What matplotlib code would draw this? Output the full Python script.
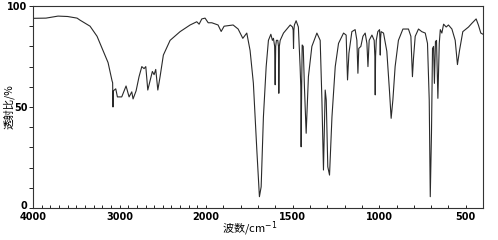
import matplotlib
matplotlib.use("Agg")
import matplotlib.pyplot as plt
import matplotlib.transforms as mtrans
import numpy as np
from matplotlib.ticker import FixedLocator, MultipleLocator

# IR spectrum (wavenumber cm-1, transmittance %)
wavenumber = [4000, 3850, 3711, 3600, 3491, 3457, 3341, 3260, 3191, 3133,
              3087, 3080, 3076, 3072, 3044, 3025, 2975, 2925, 2890, 2859,
              2844, 2809, 2775, 2743, 2717, 2697, 2674, 2647, 2621, 2601,
              2582, 2558, 2532, 2494, 2416, 2301, 2185, 2108, 2081, 2050,
              2012, 1988, 1967, 1931, 1913, 1896, 1844, 1815, 1788, 1765,
              1746, 1727, 1707, 1692, 1682, 1669, 1653, 1640, 1626, 1617,
              1611, 1604, 1601, 1598, 1594, 1586, 1582, 1580, 1577, 1572,
              1553, 1514, 1501, 1497, 1495, 1493, 1490, 1480, 1467, 1457,
              1453, 1451, 1448, 1445, 1439, 1432, 1422, 1409, 1389, 1360,
              1341, 1331, 1322, 1312, 1306, 1297, 1287, 1273, 1254, 1235,
              1206, 1191, 1183, 1175, 1158, 1139, 1129, 1123, 1118, 1106,
              1094, 1081, 1071, 1065, 1058, 1042, 1029, 1025, 1023, 1021,
              1017, 1008, 998, 996, 994, 992, 989, 975, 956, 941,
              931, 921, 908, 889, 863, 831, 817, 808, 802, 792,
              773, 754, 734, 721, 711, 705, 698, 692, 686, 681,
              675, 669, 661, 653, 647, 638, 628, 613, 600, 580,
              561, 548, 536, 517, 484, 465, 440, 427, 413, 400]
transmittance = [93.9, 94.0, 95.0, 94.8, 94.0, 93.0, 90.0, 85.0, 78.0, 72.0,
                 63.0, 62.0, 50.0, 58.0, 59.0, 55.0, 55.0, 60.4, 55.0, 57.5,
                 54.0, 58.0, 65.0, 70.0, 69.0, 70.0, 58.4, 63.0, 67.6, 66.0,
                 68.6, 58.4, 65.0, 75.7, 83.0, 87.3, 90.6, 92.2, 91.0, 93.6,
                 94.0, 91.7, 91.7, 90.6, 87.4, 90.0, 90.6, 88.6, 84.0, 86.6,
                 78.0, 61.8, 28.7, 5.6, 10.5, 45.0, 70.0, 83.0, 86.0, 83.0,
                 84.0, 80.0, 61.0, 80.0, 83.0, 83.0, 80.0, 56.8, 80.0, 83.0,
                 86.6, 90.6, 89.6, 88.0, 79.0, 88.0, 90.6, 92.7, 89.6, 70.0,
                 60.0, 30.3, 60.0, 80.7, 80.0, 60.0, 37.0, 65.0, 80.0, 86.6,
                 83.0, 53.5, 18.8, 58.4, 53.5, 20.4, 16.3, 45.0, 70.0, 81.5,
                 86.6, 85.6, 63.4, 76.6, 87.3, 88.3, 83.0, 66.7, 79.0, 80.0,
                 85.0, 86.6, 81.5, 70.0, 83.0, 85.6, 83.0, 75.0, 56.0, 75.0,
                 83.0, 87.3, 88.3, 84.0, 75.7, 84.0, 87.3, 86.6, 77.6, 58.4,
                 44.4, 53.5, 70.0, 83.0, 88.6, 88.6, 85.0, 65.0, 74.0, 85.0,
                 88.6, 87.3, 86.6, 81.5, 53.5, 5.6, 37.0, 79.0, 80.0, 61.7,
                 82.4, 83.0, 54.3, 81.5, 88.3, 86.6, 91.0, 89.6, 90.6, 88.6,
                 83.0, 71.0, 78.0, 87.3, 89.6, 91.4, 93.6, 90.6, 86.6, 86.0]

major_ticks = [4000, 3000, 2000, 1500, 1000, 500]


# SDBS style axis: 4000-2000 drawn at half the scale of 2000-400
def fwd(w):
    w = np.asarray(w, dtype=float)
    return np.where(w >= 2000, (w - 2000) / 2.0, w - 2000)


def inv(u):
    u = np.asarray(u, dtype=float)
    return np.where(u >= 0, 2000 + 2.0 * u, 2000 + u)


fig = plt.figure(figsize=(4.98, 2.40), dpi=100)
ax = fig.add_axes([0.0663, 0.1333, 0.9037, 0.8417])

ax.plot(wavenumber, transmittance, color="#2a2a2a", lw=0.8)

ax.set_xscale("function", functions=(fwd, inv))
ax.set_xlim(4000, 400)
ax.set_ylim(0, 100)

ax.xaxis.set_major_locator(FixedLocator(major_ticks))
ax.xaxis.set_minor_locator(FixedLocator(np.arange(500, 4000, 100)))
ax.set_xticklabels([str(t) for t in major_ticks])
ax.yaxis.set_major_locator(FixedLocator([0, 50, 100]))
ax.yaxis.set_minor_locator(MultipleLocator(10))

ax.tick_params(axis="x", which="both", direction="in", length=2, width=0.6,
               labelsize=7, pad=3)
ax.tick_params(axis="y", which="both", direction="out", length=3, width=0.6,
               labelsize=7, pad=1)
for lab in ax.get_xticklabels() + ax.get_yticklabels():
    lab.set_fontweight("bold")

# nudge the "0" label up a little so it clears "4000"
zero_lab = ax.get_yticklabels()[0]
zero_lab.set_transform(zero_lab.get_transform() +
                       mtrans.ScaledTranslation(0, 3 / 100, fig.dpi_scale_trans))

for s in ax.spines.values():
    s.set_linewidth(0.8)
    s.set_color("#333333")

cjk = ["Noto Sans CJK SC", "DejaVu Sans"]
ax.set_ylabel("透射比/%", family=cjk, fontsize=7.5, va="center")
ax.yaxis.set_label_coords(-0.054, 0.5)
ax.set_xlabel("波数/cm$^{-1}$", family=cjk, fontsize=8, va="center")
ax.xaxis.set_label_coords(0.482, -0.10)

fig.savefig("out.png", dpi=100)
